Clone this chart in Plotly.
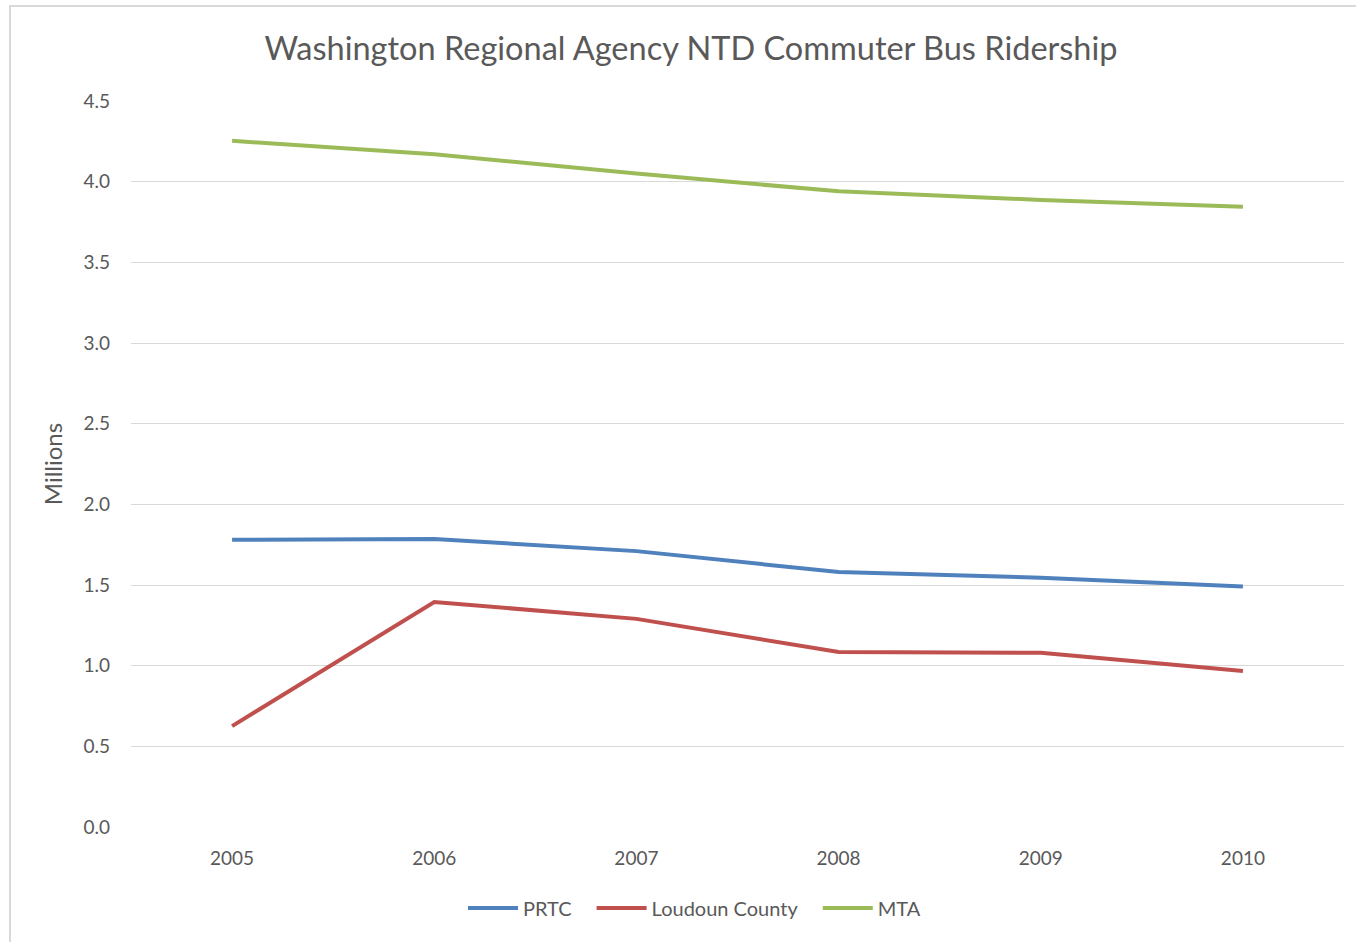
import plotly.graph_objects as go

years = ["2005", "2006", "2007", "2008", "2009", "2010"]
prtc = [1.78, 1.785, 1.71, 1.58, 1.545, 1.49]
loudoun = [0.625, 1.395, 1.29, 1.085, 1.08, 0.967]
mta = [4.253, 4.17, 4.05, 3.94, 3.887, 3.845]

series_names = ["PRTC", "Loudoun County", "MTA"]
series_values = [prtc, loudoun, mta]
series_colors = ["#4F81BD", "#C0504D", "#9BBB59"]

fig = go.Figure()
for name, vals, col in zip(series_names, series_values, series_colors):
    fig.add_trace(go.Scatter(x=years, y=vals, name=name + "\u2003", mode="lines",
                             line=dict(color=col, width=4)))

W, H = 1356, 942
L, R, T, B = 131, 12, 101, 115
pw, ph = W - L - R, H - T - B

def px(x):
    return (x - L) / pw

def py(y):
    return (H - B - y) / ph

fig.update_layout(
    width=W, height=H, autosize=False,
    margin=dict(l=L, r=R, t=T, b=B),
    paper_bgcolor="white", plot_bgcolor="white",
    font=dict(family="Lato, Open Sans, sans-serif", color="#595959", size=19),
    title=dict(text="Washington Regional Agency NTD Commuter Bus Ridership",
               x=691 / W, xanchor="center", y=1 - 49 / H, yanchor="middle",
               font=dict(size=32.5, color="#595959")),
    xaxis=dict(type="category", range=[-0.5, 5.5], showgrid=False,
               showline=False, zeroline=False, ticks="", ticklabelstandoff=18,
               tickfont=dict(size=19, color="#595959")),
    yaxis=dict(range=[0, 4.5], dtick=0.5, tickformat=".1f", showgrid=True,
               gridcolor="#D9D9D9", gridwidth=1, zeroline=False, showline=False,
               ticks="", ticklabelstandoff=20,
               tickfont=dict(size=19, color="#595959"),
               title=dict(text="Millions", font=dict(size=24, color="#595959"),
                          standoff=14)),
    legend=dict(orientation="h", x=px(702), xanchor="center", y=py(908),
                yanchor="middle", font=dict(size=20, color="#595959"),
                itemwidth=50, tracegroupgap=0),
    showlegend=True,
)

fig.add_shape(type="line", xref="paper", yref="paper",
              x0=px(10), x1=px(10), y0=py(5), y1=py(H + 5),
              line=dict(color="#D9D9D9", width=2))
fig.add_shape(type="line", xref="paper", yref="paper",
              x0=px(10), x1=px(W + 5), y0=py(6), y1=py(6),
              line=dict(color="#D9D9D9", width=2))

fig.write_html("out.html", config={"displayModeBar": False},
               post_script="document.body.style.margin='0px';document.body.style.overflow='hidden';")
